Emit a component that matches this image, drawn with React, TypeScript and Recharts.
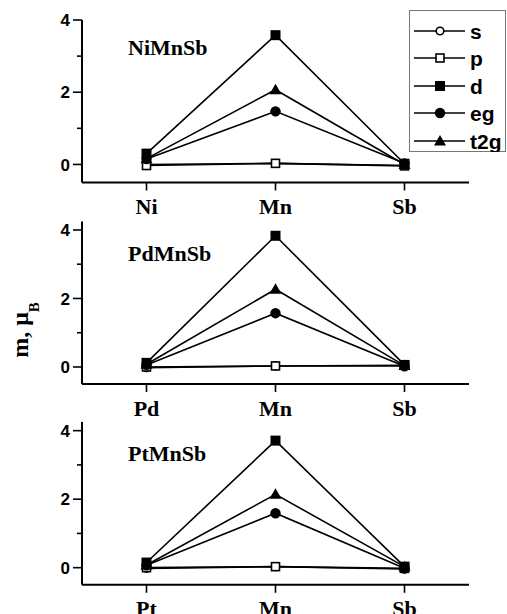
import React from 'react';
import { LineChart, Line, XAxis, YAxis } from 'recharts';

const seriesKeys = ['s', 'p', 'd', 'eg', 't2g'];

const cats1 = ['Ni', 'Mn', 'Sb'];
const s1 = [0.0, 0.03, -0.03];
const p1 = [-0.03, 0.03, -0.04];
const d1 = [0.3, 3.58, 0.02];
const eg1 = [0.15, 1.47, 0.03];
const t2g1 = [0.16, 2.07, 0.0];

const cats2 = ['Pd', 'Mn', 'Sb'];
const s2 = [-0.02, 0.03, 0.03];
const p2 = [0.0, 0.03, 0.05];
const d2 = [0.12, 3.83, 0.06];
const eg2 = [0.06, 1.57, 0.02];
const t2g2 = [0.08, 2.27, 0.04];

const cats3 = ['Pt', 'Mn', 'Sb'];
const s3 = [-0.02, 0.03, -0.04];
const p3 = [0.0, 0.03, -0.02];
const d3 = [0.15, 3.71, 0.03];
const eg3 = [0.07, 1.59, -0.02];
const t2g3 = [0.08, 2.14, 0.03];

const titles = ['NiMnSb', 'PdMnSb', 'PtMnSb'];
const yTicks = [0, 1, 2, 3, 4];
const yLabelMain = 'm, \u03bc';
const yLabelSub = 'B';

const SERIF = '"Liberation Serif", "Times New Roman", serif';
const SANS = '"Liberation Sans", Arial, sans-serif';

function build(cats: string[], s: number[], p: number[], d: number[], eg: number[], t2g: number[]) {
  return cats.map((c, i) => ({ x: i, s: s[i], p: p[i], d: d[i], eg: eg[i], t2g: t2g[i] }));
}

function Marker({ kind, cx, cy }: { kind: string; cx: number; cy: number }) {
  if (cx == null || cy == null) return null;
  switch (kind) {
    case 's':
      return <circle cx={cx} cy={cy} r={3.8} fill="#fff" stroke="#000" strokeWidth={1.6} />;
    case 'p':
      return <rect x={cx - 4} y={cy - 4} width={8} height={8} fill="#fff" stroke="#000" strokeWidth={1.6} />;
    case 'd':
      return <rect x={cx - 5} y={cy - 5} width={10} height={10} fill="#000" />;
    case 'eg':
      return <circle cx={cx} cy={cy} r={5.2} fill="#000" />;
    case 't2g':
      return <polygon points={`${cx},${cy - 6} ${cx + 6},${cy + 4.5} ${cx - 6},${cy + 4.5}`} fill="#000" />;
    default:
      return null;
  }
}

const YTick = (props: any) => {
  const { x, y, payload } = props;
  const major = payload.value % 2 === 0;
  return (
    <g>
      <line x1={x - (major ? 9 : 5)} y1={y} x2={x} y2={y} stroke="#000" strokeWidth={1.6} />
      {major && (
        <text x={x - 12} y={y} dy="0.36em" textAnchor="end" fontFamily={SANS} fontWeight="bold" fontSize={17} fill="#000">
          {payload.value}
        </text>
      )}
    </g>
  );
};

function LegendBox() {
  const rows = [21, 48, 76, 103, 131];
  return (
    <div
      style={{
        position: 'absolute',
        left: 409,
        top: 10,
        width: 97,
        height: 142,
        border: '1px solid #777',
        boxSizing: 'border-box',
        background: '#fff',
      }}
    >
      <svg width={97} height={142} style={{ display: 'block', position: 'absolute', left: -1, top: -1 }}>
        {seriesKeys.map((k, i) => (
          <g key={k}>
            <line x1={5} y1={rows[i]} x2={56} y2={rows[i]} stroke="#000" strokeWidth={1.6} />
            <Marker kind={k} cx={31} cy={rows[i]} />
            <text x={61} y={rows[i]} dy="0.36em" fontFamily={SANS} fontWeight="bold" fontSize={21} fill="#000">
              {k}
            </text>
          </g>
        ))}
      </svg>
    </div>
  );
}

function Panel(props: {
  top: number;
  height: number;
  plotTop: number;
  plotBottom: number;
  yMax: number;
  cats: string[];
  data: any[];
}) {
  const { top, height, plotTop, plotBottom, yMax, cats, data } = props;
  const xAxisH = 30;
  return (
    <div style={{ position: 'absolute', left: 0, top, width: 507, height }}>
      <LineChart
        width={507}
        height={height}
        data={data}
        margin={{ left: 22, right: 38, top: plotTop - top, bottom: top + height - plotBottom - xAxisH }}
      >
        <XAxis
          type="number"
          dataKey="x"
          domain={[-0.5, 2.5]}
          ticks={[0, 1, 2]}
          tickFormatter={(v: number) => cats[v]}
          height={xAxisH}
          tickSize={8}
          tickMargin={8}
          axisLine={{ stroke: '#000', strokeWidth: 2 }}
          tickLine={{ stroke: '#000', strokeWidth: 1.6 }}
          tick={{ fill: '#000', fontFamily: SERIF, fontWeight: 'bold', fontSize: 22 }}
          allowDataOverflow
        />
        <YAxis
          type="number"
          domain={[-0.5, yMax]}
          ticks={yTicks}
          width={60}
          tickSize={0}
          tickMargin={0}
          tickLine={false}
          axisLine={{ stroke: '#000', strokeWidth: 2 }}
          tick={<YTick />}
          interval={0}
          allowDataOverflow
        />
        {seriesKeys.map((k) => (
          <Line
            key={k}
            type="linear"
            dataKey={k}
            name={k}
            stroke="#000"
            strokeWidth={1.6}
            isAnimationActive={false}
            dot={(dp: any) => <Marker key={`${k}-${dp.index}`} kind={k} cx={dp.cx} cy={dp.cy} />}
            activeDot={false}
          />
        ))}
      </LineChart>
    </div>
  );
}

export default function App() {
  const data1 = build(cats1, s1, p1, d1, eg1, t2g1);
  const data2 = build(cats2, s2, p2, d2, eg2, t2g2);
  const data3 = build(cats3, s3, p3, d3, eg3, t2g3);
  return (
    <div style={{ position: 'absolute', left: 0, top: 0, width: 507, height: 614, background: '#fff', overflow: 'hidden' }}>
      <Panel top={410} height={214} plotTop={422.1} plotBottom={584.8} yMax={4.25} cats={cats3} data={data3} />
      <Panel top={210} height={220} plotTop={221.4} plotBottom={384.1} yMax={4.25} cats={cats2} data={data2} />
      <Panel top={0} height={225} plotTop={20} plotBottom={182.5} yMax={4} cats={cats1} data={data1} />
      <svg width={507} height={614} style={{ position: 'absolute', left: 0, top: 0, pointerEvents: 'none' }}>
        <text x={128} y={55} fontFamily={SERIF} fontWeight="bold" fontSize={22} fill="#000">{titles[0]}</text>
        <text x={128} y={261} fontFamily={SERIF} fontWeight="bold" fontSize={22} fill="#000">{titles[1]}</text>
        <text x={128} y={461} fontFamily={SERIF} fontWeight="bold" fontSize={22} fill="#000">{titles[2]}</text>
        <text
          x={28}
          y={330}
          transform="rotate(-90, 28, 330)"
          textAnchor="middle"
          fontFamily={SERIF}
          fontWeight="bold"
          fontSize={24}
          fill="#000"
        >
          {yLabelMain}
          <tspan dy={11} fontSize={15}>{yLabelSub}</tspan>
        </text>
      </svg>
      <LegendBox />
    </div>
  );
}
